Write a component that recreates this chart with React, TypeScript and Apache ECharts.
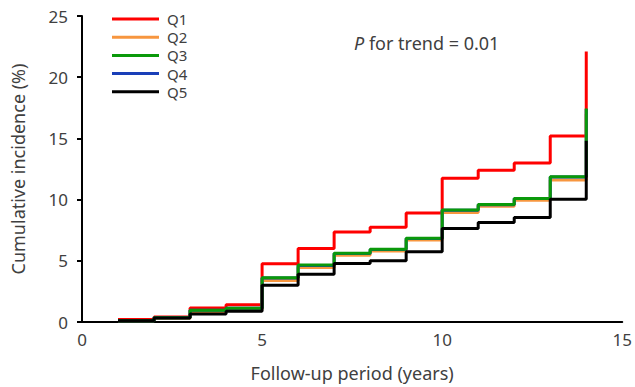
import React, { useEffect, useRef } from "react";
import * as echarts from "echarts";

const years = [1, 2, 3, 4, 5, 6, 7, 8, 9, 10, 11, 12, 13, 14];
const q1 = [0.2, 0.4, 1.15, 1.4, 4.75, 6.0, 7.35, 7.75, 8.9, 11.75, 12.4, 13.0, 15.2, 22.1];
const q2 = [0.1, 0.3, 0.85, 1.05, 3.4, 4.45, 5.45, 5.8, 6.7, 8.95, 9.45, 9.95, 11.6, 17.0];
const q3 = [0.1, 0.35, 0.95, 1.12, 3.62, 4.65, 5.62, 5.95, 6.85, 9.15, 9.6, 10.1, 11.87, 17.45];
const q4 = [0.1, 0.35, 0.95, 1.12, 3.6, 4.62, 5.6, 5.93, 6.83, 9.13, 9.58, 10.08, 11.85, 17.4];
const q5 = [0.1, 0.33, 0.65, 0.87, 3.0, 3.9, 4.78, 5.0, 5.73, 7.63, 8.12, 8.53, 10.02, 14.8];

const seriesNames = ["Q1", "Q2", "Q3", "Q4", "Q5"];
const colors: Record<string, string> = {
  Q1: "#ff0000",
  Q2: "#f7963f",
  Q3: "#0a990a",
  Q4: "#1a3fb8",
  Q5: "#000000",
};

const FONT = "Noto Sans";
const TEXT = "#404040";

export default function App() {
  const ref = useRef<HTMLDivElement>(null);
  useEffect(() => {
    if (!ref.current) return;
    const chart = echarts.init(ref.current, null, { renderer: "svg" });
    const mk = (name: string, vals: number[]) => ({
      name,
      type: "line",
      step: "end",
      symbol: "none",
      data: years.map((y, i) => [y, vals[i]]),
      lineStyle: { width: 3, color: colors[name] },
      itemStyle: { color: colors[name] },
    });
    chart.setOption({
      animation: false,
      textStyle: { fontFamily: FONT },
      grid: { left: 82, right: 11, top: 16, bottom: 64 },
      legend: {
        data: seriesNames,
        orient: "vertical",
        left: 112,
        top: 11,
        padding: 0,
        icon: "rect",
        itemWidth: 47,
        itemHeight: 3,
        itemGap: 2.2,
        textStyle: { fontSize: 15, color: TEXT, fontFamily: FONT, lineHeight: 16, padding: [0, 0, 0, 3] },
      },
      xAxis: {
        type: "value",
        min: 0,
        max: 15,
        interval: 5,
        name: "Follow-up period (years)",
        nameLocation: "middle",
        nameGap: 42,
        nameTextStyle: { fontSize: 18, color: TEXT, fontFamily: FONT },
        axisLine: { show: true, onZero: false, lineStyle: { color: "#000", width: 2 } },
        axisTick: { show: false },
        splitLine: { show: false },
        axisLabel: { fontSize: 17, color: TEXT, margin: 9, fontFamily: FONT },
      },
      yAxis: {
        type: "value",
        min: 0,
        max: 25,
        interval: 5,
        name: "Cumulative incidence (%)",
        nameLocation: "middle",
        nameGap: 55,
        nameTextStyle: { fontSize: 18, color: TEXT, fontFamily: FONT },
        axisLine: { show: true, lineStyle: { color: "#000", width: 2 } },
        axisTick: { show: true, length: 5, lineStyle: { color: "#000", width: 2 } },
        splitLine: { show: false },
        axisLabel: { fontSize: 17, color: TEXT, margin: 14, fontFamily: FONT },
      },
      graphic: [
        {
          type: "text",
          left: 354,
          top: 34,
          style: {
            text: "{i|P} for trend = 0.01",
            rich: {
              i: { fontStyle: "italic", fontSize: 18, fontFamily: FONT, fill: TEXT },
            },
            fontSize: 18,
            fontFamily: FONT,
            fill: TEXT,
          },
        },
      ],
      series: [mk("Q1", q1), mk("Q2", q2), mk("Q4", q4), mk("Q3", q3), mk("Q5", q5)],
    });
    return () => chart.dispose();
  }, []);
  return (
    <div
      ref={ref}
      style={{ position: "fixed", left: 0, top: 0, width: 635, height: 387, background: "#fff" }}
    />
  );
}
